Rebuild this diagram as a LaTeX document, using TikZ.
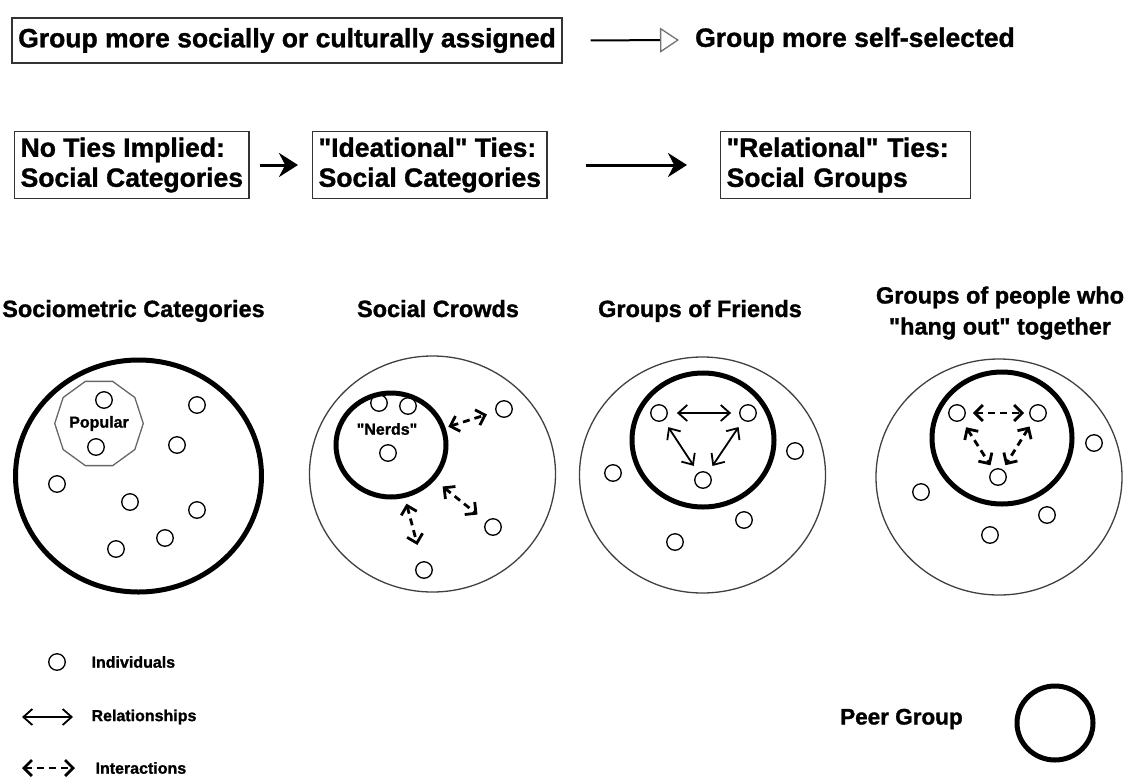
\documentclass[tikz,border=0pt]{standalone}
\usepackage{fontspec}
\setmainfont{Liberation Sans}[Ligatures=TeXOff,BoldFeatures={FakeBold=1.2}]
\usetikzlibrary{arrows.meta,positioning,shapes.geometric}
\tikzstyle{framed}=[
	rectangle,
	draw=black!80,
	line width=1.3,
	inner sep=6,
	font=\fontsize{26.5}{30}\selectfont\bfseries]
\tikzstyle{caption}=[
	align=center,
	font=\fontsize{23.5}{31}\selectfont\bfseries]
\tikzstyle{small}=[
	font=\fontsize{16}{18}\selectfont\bfseries]
\tikzstyle{indiv}=[
	circle,
	draw=black,
	line width=1.3,
	minimum size=16.5,
	inner sep=0]
\tikzstyle{peer}=[
	ellipse,
	draw=black,
	line width=5,
	inner sep=0]
\tikzstyle{crowd}=[
	ellipse,
	draw=black!75,
	line width=1.3,
	minimum width=246,
	minimum height=236,
	inner sep=0]
\tikzstyle{push}=[
	line width=3,
	-{Stealth[length=19,width=24]}]
\tikzstyle{weak}=[
	line width=2,
	-{Triangle[open,length=19,width=25,color=black!55,line width=1.3]}]
\tikzstyle{rel}=[
	line width=1.8,
	{Straight Barb[length=9,width=16]}-{Straight Barb[length=9,width=16]}]
\tikzstyle{inter}=[
	line width=2.8,
	dash pattern=on 7 off 5,
	{Straight Barb[length=8,width=16]}-{Straight Barb[length=8,width=16]}]

\begin{document}
\begin{tikzpicture}[x=1pt,y=-1pt]
	\useasboundingbox (0,0) rectangle (1125,777);
	% top line: assigned vs. self-selected
	\node[framed,minimum width=550,minimum height=45] (assigned) at (287,40.5) {Group more socially or culturally assigned};
	\node[font=\fontsize{26.5}{30}\selectfont\bfseries,anchor=west,inner sep=0] (selected) at (695,40) {Group more self-selected};
	\draw[weak,shorten <=28,shorten >=16] (assigned.east) -- (selected.west);

	% kinds of ties
	\node[framed,align=left,anchor=west] (noties) at (14,165) {No Ties Implied:\\Social Categories};
	\node[framed,align=left,anchor=west] (ideational) at (312,165) {"Ideational" Ties:\\Social Categories};
	\node[framed,align=left,anchor=west,text width=238] (relational) at (720,165) {"Relational" Ties:\\Social Groups};
	\draw[push,shorten <=10,shorten >=14] (noties) -- (ideational);
	\draw[push,shorten <=38,shorten >=33] (ideational) -- (relational);

	% column titles
	\node[caption,anchor=base] (sociotitle) at (133.5,317) {Sociometric Categories};
	\node[caption,anchor=base] (crowdtitle) at (438,317) {Social Crowds};
	\node[caption,anchor=base] (friendtitle) at (700,317) {Groups of Friends};
	\node[caption] (hangtitle) at (1000,313) {Groups of people who\\"hang out" together};

	% sociometric categories
	\node[peer,minimum width=246,minimum height=232] (socio) at (138.5,476) {};
	\node[regular polygon,regular polygon sides=10,draw=black!60,line width=1.3,minimum size=88,inner sep=0,small] (popular) at (99,423.5) {Popular};
	\foreach \n/\x/\y in {s1/104/400,s2/96/447,s3/197/405,s4/177/445,s5/57/484,s6/130/502,s7/197/510,s8/165/538,s9/116/549}
		\node[indiv] (\n) at (\x,\y) {};

	% social crowds
	\node[crowd] (crowd) at (432.5,474) {};
	\node[peer,minimum width=110,minimum height=104] (nerds) at (391,445) {};
	\node[small] (nerdstext) at (387,429) {"Nerds"};
	\foreach \n/\x/\y in {c1/379/403,c2/408/406,c3/388/453,c4/504/409,c5/493/527,c6/424/570}
		\node[indiv] (\n) at (\x,\y) {};
	\draw[inter,shorten <=3,shorten >=9] (nerds) -- (c4);
	\draw[inter,shorten <=10,shorten >=11] (nerds) -- (c5);
	\draw[inter,shorten <=6,shorten >=17] (nerds) -- (c6);

	% groups of friends
	\node[crowd] (friends) at (702.5,475) {};
	\node[peer,minimum width=142,minimum height=134] (friendcore) at (703,440) {};
	\foreach \n/\x/\y in {f1/659/413,f2/748/413,f3/703/480,f4/795/451,f5/613/473,f6/744/520,f7/675/542}
		\node[indiv] (\n) at (\x,\y) {};
	\draw[rel,shorten <=9,shorten >=8] (f1) -- (f2);
	\draw[rel,shorten <=8,shorten >=8] (f1) -- (f3);
	\draw[rel,shorten <=8,shorten >=8] (f2) -- (f3);

	% hanging out together
	\node[crowd] (hang) at (999,477) {};
	\node[peer,minimum width=140,minimum height=132] (hangcore) at (1002,438) {};
	\foreach \n/\x/\y in {h1/957/413,h2/1038/413,h3/998/477,h4/1094/443,h5/921/492,h6/1047/515,h7/990/535}
		\node[indiv] (\n) at (\x,\y) {};
	\draw[inter,shorten <=7,shorten >=5] (h1) -- (h2);
	\draw[inter,shorten <=8,shorten >=5] (h1) -- (h3);
	\draw[inter,shorten <=7,shorten >=5] (h2) -- (h3);

	% legend
	\node[indiv] (keyindiv) at (57,662) {};
	\node[small,anchor=west] (keyindivtext) at (88,662) {Individuals};
	\coordinate (relfrom) at (22,717);
	\coordinate (relto) at (73,717);
	\draw[rel] (relfrom) -- (relto);
	\node[small,anchor=west] (keyreltext) at (88,717) {Relationships};
	\coordinate (intfrom) at (22,768);
	\coordinate (intto) at (75,768);
	\draw[inter] (intfrom) -- (intto);
	\node[small,anchor=west] (keyinttext) at (92,768) {Interactions};
	\node[font=\fontsize{22.5}{26}\selectfont\bfseries,anchor=west,inner sep=0] (keypeertext) at (840,719) {Peer Group};
	\node[peer,minimum width=76,minimum height=74] (keypeer) at (1055,723) {};
\end{tikzpicture}
\end{document}
